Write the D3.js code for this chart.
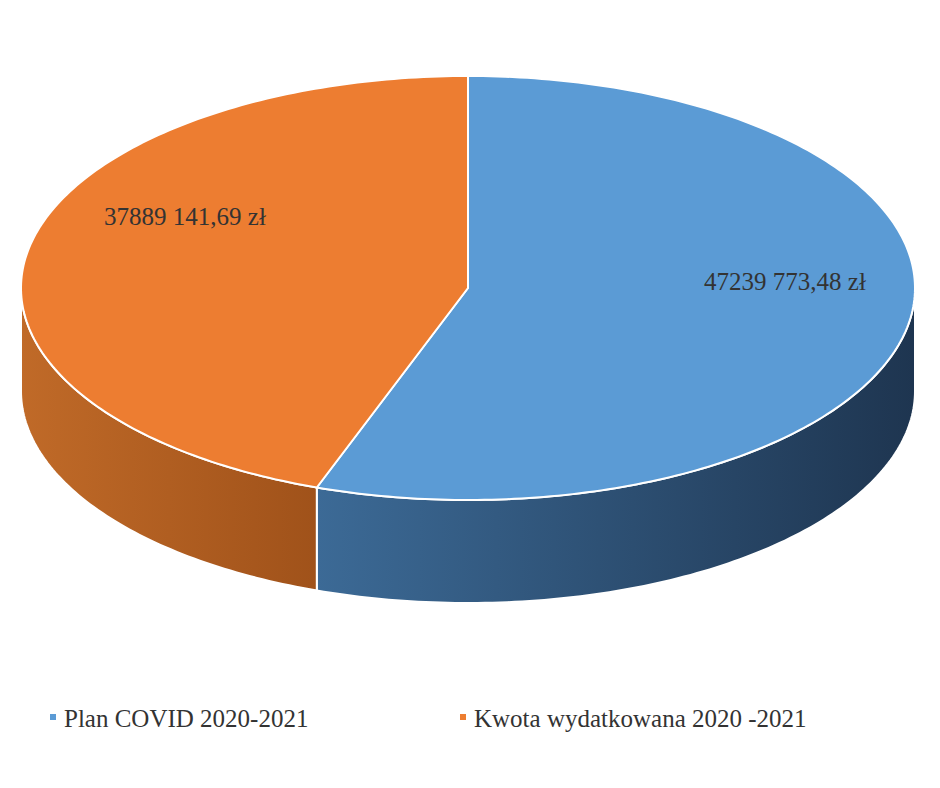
<!DOCTYPE html>
<html>
  <head>
    <meta charset="utf-8"/>
    <script src="https://cdn.jsdelivr.net/npm/d3@7"></script>
    <style>body{margin:0;background:#fff}</style>
  </head>
  <body>
    <svg id="target"></svg>
  </body>
  <script>
    var categories = [ "Plan COVID 2020-2021", "Kwota wydatkowana 2020 -2021" ];
    var values = [ 47239773.48, 37889141.69 ];
    var labels = [ "47239 773,48 zł", "37889 141,69 zł" ];
    var topColors = [ "#5b9bd5", "#ed7d31" ];
    var sideColors = [ [ "#3c6a96", "#1e3550" ], [ "#c06a28", "#a0521a" ] ];

    var width = 940, height = 788;
    var cx = 468, cy = 288, rx = 447, ry = 212, depth = 103;
    var svg = d3.select( "#target" ).attr( "width", width ).attr( "height", height );
    var font = "'Liberation Serif', 'DejaVu Serif', serif";

    var pie = d3.pie().sort( null ).value( d => d );
    var arcs = pie( values );
    var px = a => cx + rx * Math.sin( a );
    var py = a => cy - ry * Math.cos( a );
    var line = d3.line();
    function pts( a0, a1, dy ) {
      var n = Math.max( 2, Math.ceil( Math.abs( a1 - a0 ) * 60 ) );
      return d3.range( n + 1 ).map( i => { var a = a0 + ( a1 - a0 ) * i / n; return [ px( a ), py( a ) + dy ]; } );
    }

    var defs = svg.append( "defs" );
    sideColors.forEach( ( c, i ) => {
      var g = defs.append( "linearGradient" ).attr( "id", "side" + i ).attr( "x1", "0" ).attr( "x2", "1" );
      g.append( "stop" ).attr( "offset", "0" ).attr( "stop-color", c[0] );
      g.append( "stop" ).attr( "offset", "1" ).attr( "stop-color", c[1] );
    } );

    // side walls (front half only)
    arcs.forEach( ( d, i ) => {
      var a0 = Math.max( d.startAngle, Math.PI / 2 ), a1 = Math.min( d.endAngle, 3 * Math.PI / 2 );
      if ( a1 <= a0 ) return;
      var p = pts( a0, a1, 0 ).concat( pts( a1, a0, depth ) );
      svg.append( "path" ).attr( "d", line( p ) + "Z" )
        .attr( "fill", "url(#side" + i + ")" ).attr( "stroke", "#fff" ).attr( "stroke-width", 2 );
    } );

    // top faces
    arcs.forEach( ( d, i ) => {
      var p = [ [ cx, cy ] ].concat( pts( d.startAngle, d.endAngle, 0 ) );
      svg.append( "path" ).attr( "d", line( p ) + "Z" )
        .attr( "fill", topColors[i] ).attr( "stroke", "#fff" ).attr( "stroke-width", 2 );
    } );

    // data labels
    var labelPos = [ [ 785, 290 ], [ 185, 225 ] ];
    labels.forEach( ( t, i ) => {
      svg.append( "text" ).attr( "x", labelPos[i][0] ).attr( "y", labelPos[i][1] )
        .attr( "text-anchor", "middle" ).attr( "font-family", font ).attr( "font-size", 25 )
        .attr( "fill", "#333" ).text( t );
    } );

    // legend
    var legendX = [ 50, 460 ];
    categories.forEach( ( c, i ) => {
      svg.append( "rect" ).attr( "x", legendX[i] ).attr( "y", 714 ).attr( "width", 6 ).attr( "height", 6 ).attr( "fill", topColors[i] );
      svg.append( "text" ).attr( "x", legendX[i] + 14 ).attr( "y", 727 )
        .attr( "font-family", font ).attr( "font-size", 25 ).attr( "fill", "#333" ).text( c );
    } );
  </script>
</html>
